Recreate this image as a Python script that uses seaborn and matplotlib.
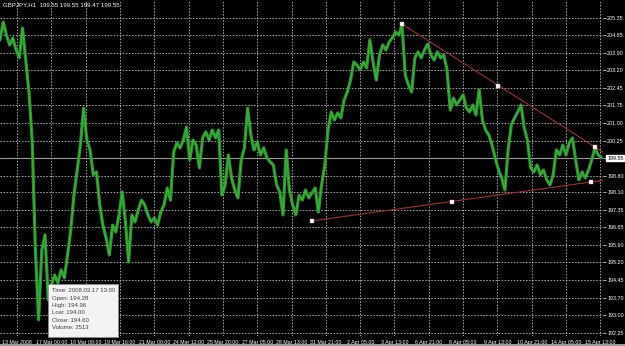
import numpy as np
import pandas as pd
import matplotlib
matplotlib.use("Agg")
import matplotlib.pyplot as plt
import seaborn as sns
from matplotlib.patches import Rectangle

# ---------------- data ----------------
symbol_title = "GBPJPY,H1  199.55 199.55 199.47 199.55"
bar_step_hours = 3  # one sample every 3 hourly bars

close_prices = [
    204.45, 205.19, 204.65, 204.24, 204.53, 204.03, 203.70, 204.94, 203.61, 202.28,
    200.28, 195.70, 192.79, 195.70, 196.33, 193.62, 194.25, 194.66, 194.33, 194.87,
    194.54, 195.49, 196.54, 197.99, 199.03, 200.07, 201.61, 200.28, 199.87, 198.83,
    198.95, 197.58, 196.74, 196.20, 195.49, 196.74, 196.45, 197.16, 198.12, 196.87,
    195.20, 197.16, 196.87, 197.37, 197.78, 197.58, 197.16, 196.87, 197.04, 196.74,
    197.28, 197.58, 198.28, 197.78, 199.78, 200.16, 199.95, 200.28, 200.82, 199.45,
    200.28, 200.07, 199.12, 200.37, 200.62, 200.28, 200.70, 200.37, 200.70, 197.99,
    198.41, 199.66, 198.70, 198.20, 197.87, 199.45, 199.95, 201.61, 200.49, 199.87,
    200.20, 199.66, 199.95, 199.53, 199.37, 199.24, 198.41, 198.12, 197.16, 199.87,
    198.20, 197.58, 197.16, 197.99, 197.78, 198.20, 197.87, 198.08, 198.28, 197.28,
    198.41, 199.24, 200.70, 201.45, 201.11, 201.41, 201.20, 201.95, 202.28, 202.78,
    203.53, 203.40, 203.20, 203.53, 203.28, 204.45, 203.53, 202.78, 203.82, 204.24,
    204.03, 204.36, 204.53, 204.78, 204.65, 205.07, 202.99, 202.57, 202.28, 203.70,
    203.95, 203.70, 204.03, 204.28, 203.82, 203.61, 203.95, 203.70, 203.82, 203.20,
    201.53, 202.03, 201.74, 201.95, 202.16, 201.61, 201.45, 201.74, 201.32, 202.37,
    201.11, 200.70, 200.49, 200.07, 199.53, 199.03, 198.70, 198.20, 199.87, 200.91,
    201.20, 201.45, 201.74, 200.78, 200.28, 199.12, 198.95, 199.24, 198.83, 199.03,
    198.62, 198.41, 198.83, 199.87, 199.66, 200.07, 199.66, 200.16, 200.37, 199.45,
    198.62, 198.95, 198.70, 199.03, 199.45, 199.95, 199.66, 199.55,
]

price_ticks = [205.35, 204.65, 203.90, 203.20, 202.45, 201.75, 201.00, 200.25, 199.55,
               198.80, 198.10, 197.35, 196.65, 195.90, 195.20, 194.45, 193.70, 193.00, 192.25]

time_labels = ["13 Mar 2008", "17 Mar 00:00", "18 Mar 08:00", "19 Mar 16:00", "21 Mar 00:00",
               "24 Mar 12:00", "25 Mar 20:00", "27 Mar 05:00", "28 Mar 13:00", "31 Mar 21:00",
               "2 Apr 05:00", "3 Apr 13:00", "6 Apr 21:00", "8 Apr 05:00", "9 Apr 13:00",
               "10 Apr 21:00", "14 Apr 05:00", "15 Apr 13:00"]
time_label_hours = [16 + 32 * k for k in range(len(time_labels))]

current_price = 199.55

upper_trend_hours = [375, 465, 555]
upper_trend_prices = [205.11, 202.55, 199.99]
lower_trend_hours = [291, 421.6, 551]
lower_trend_prices = [196.91, 197.70, 198.53]

tooltip_lines = ["Time: 2008.03.17 13:00", "Open: 194.28", "High: 194.96",
                 "Low: 194.00", "Close: 194.60", "Volume: 2513"]

# ---------------- figure ----------------
W, H = 625, 346
sns.set_theme(style="dark", rc={"axes.facecolor": "black", "figure.facecolor": "black"})
plt.rcParams['font.family'] = ['Liberation Sans', 'DejaVu Sans']

fig = plt.figure(figsize=(W / 100, H / 100), dpi=100)
ax = fig.add_axes([0, 1 - 336 / H, 603 / W, 336 / H])
ax.set_facecolor("black")

X_MAX = 562.5
ax.set_xlim(0, X_MAX)
ax.set_ylim(192.12, 206.11)

# grid
ax.set_xticks(time_label_hours)
ax.set_xticklabels(time_labels)
ax.yaxis.tick_right()
ax.set_yticks(price_ticks)
ax.set_yticklabels([f"{p:.2f}" for p in price_ticks])
ax.grid(True, color="#cfcfcf", lw=0.55, ls=(0, (2, 2)))
ax.tick_params(axis="y", length=2, width=0.5, pad=1.0, labelsize=3.9, colors="white")
ax.tick_params(axis="x", length=2, width=0.5, pad=1.0, labelsize=3.75, colors="white")
for s in ax.spines.values():
    s.set_visible(False)

# current price line
ax.axhline(current_price, color="#9a9a9a", lw=0.8, zorder=2)

# price series
hours = np.arange(len(close_prices)) * bar_step_hours
df = pd.DataFrame({"hour": hours, "close": close_prices})
sns.lineplot(data=df, x="hour", y="close", ax=ax, color="#2b962b", lw=2.3, zorder=3)
sns.lineplot(data=df, x="hour", y="close", ax=ax, color="#3cb43c", lw=0.7, zorder=3)
ax.set_xlabel("")
ax.set_ylabel("")

# trend lines (rays extended to right edge)
for th, tp in ((upper_trend_hours, upper_trend_prices), (lower_trend_hours, lower_trend_prices)):
    slope = (tp[-1] - tp[0]) / (th[-1] - th[0])
    end_p = tp[0] + slope * (X_MAX - th[0])
    ax.plot([th[0], X_MAX], [tp[0], end_p], color="#a03030", lw=0.8, zorder=4)
    ax.plot(th, tp, ls="none", marker="s", ms=2.2, mfc="white", mec="#e0a0a0", mew=0.3, zorder=5)

# current price label box
for lab in ax.get_yticklabels():
    if lab.get_text() == f"{current_price:.2f}":
        lab.set_color("black")
        lab.set_bbox(dict(facecolor="white", edgecolor="white", pad=0.5))

# title
fig.text(3 / W, 1 - 5 / H, symbol_title, color="white", fontsize=4.4, va="center", ha="left")

# tooltip
fig.add_artist(Rectangle((48 / W, 1 - 337 / H), 70 / W, 53 / H, transform=fig.transFigure,
                         facecolor="#f3f3f3", edgecolor="#909090", lw=0.5, zorder=10))
for i, line in enumerate(tooltip_lines):
    fig.text(52 / W, 1 - (291 + 7.3 * i) / H, line, color="#404040", fontsize=4.3,
             va="center", ha="left", zorder=11)

# bottom window strip
fig.add_artist(Rectangle((0, 0), 1, 2.5 / H, transform=fig.transFigure,
                         facecolor="#9a9a9a", edgecolor="none", zorder=1))

fig.savefig("out.png", dpi=100, facecolor="black")
